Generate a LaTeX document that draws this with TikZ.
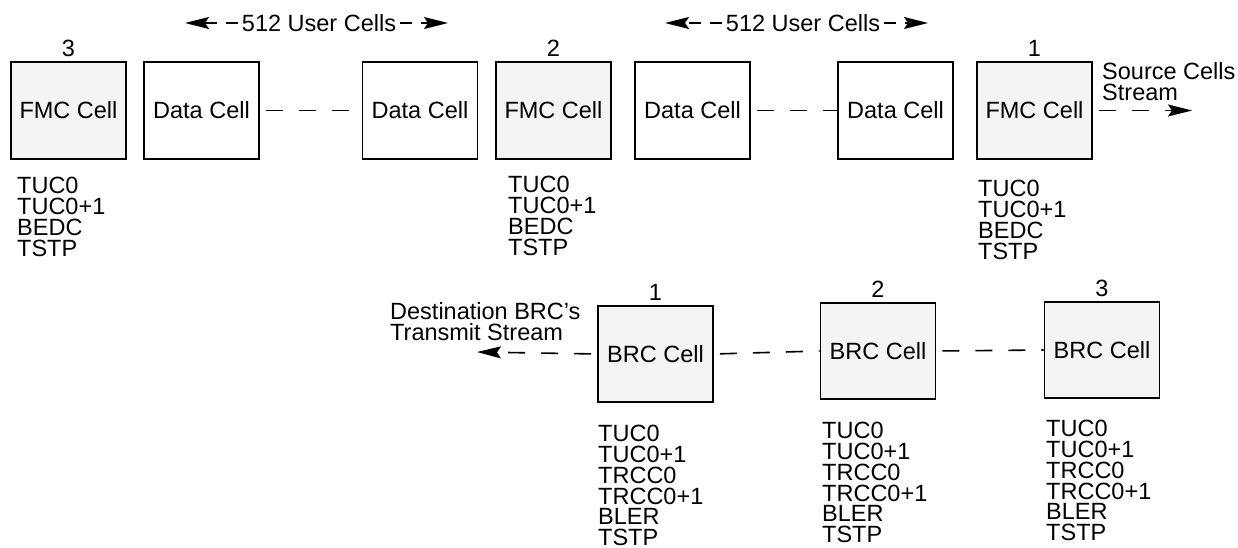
\documentclass[tikz,border=0pt]{standalone}
\usepackage{fontspec}
\setmainfont{Liberation Sans}
\usetikzlibrary{arrows.meta,calc}
\definecolor{cellgray}{HTML}{F4F4F4}
\begin{document}
\begin{tikzpicture}[x=1pt,y=-1pt,
  font=\fontsize{23.5}{20.8}\selectfont,
  cellbox/.style={draw=black,line width=1.8pt,minimum width=115pt,minimum height=97pt,inner sep=0pt},
  fmc/.style={cellbox,fill=cellgray},
  data/.style={cellbox,fill=white},
  num/.style={inner sep=0pt,label distance=4.5pt},
  info/.style={anchor=north west,align=left,inner sep=0pt},
  dline/.style={line width=1.6pt,dash pattern=on 17pt off 16pt},
  sline/.style={line width=1.6pt,dash pattern=on 12pt off 9pt},
  tip/.style={-{Stealth[length=24pt,width=12pt,inset=4pt]}}
]
\useasboundingbox (0,0) rectangle (1238,548);

% top row
\node[fmc,label={[num]above:3}] (fmc3) at (68.5,110.5) {FMC Cell};
\node[data] (d1) at (201.5,110.5) {Data Cell};
\node[data] (d2) at (420,110.5) {Data Cell};
\node[fmc,label={[num]above:2}] (fmc2) at (553.5,110.5) {FMC Cell};
\node[data] (d3) at (692.5,110.5) {Data Cell};
\node[data] (d4) at (895.5,110.5) {Data Cell};
\node[fmc,label={[num]above:1}] (fmc1) at (1034.5,110.5) {FMC Cell};

\draw[dline,dash phase=-6pt] (d1.east) -- (d2.west);
\draw[dline,dash phase=-6pt] (d3.east) -- (d4.west);
\coordinate (srcend) at (1192,110.5);
\draw[dline,dash phase=-6pt,tip] (fmc1.east) -- (srcend);
\node[info] (srctxt) at (1102,62) {Source Cells\\Stream};

% 512 user cells spans
\node[inner sep=4pt] (u1) at (319,23) {512 User Cells};
\coordinate (u1l) at (185,23);
\coordinate (u1r) at (448,23);
\draw[sline,tip] (u1.west) -- (u1l);
\draw[sline,tip] (u1.east) -- (u1r);
\node[inner sep=4pt] (u2) at (803,23) {512 User Cells};
\coordinate (u2l) at (665,23);
\coordinate (u2r) at (928,23);
\draw[sline,tip] (u2.west) -- (u2l);
\draw[sline,tip] (u2.east) -- (u2r);

% top annotations
\node[info] (i3) at (17,177) {TUC0\\TUC0+1\\BEDC\\TSTP};
\node[info] (i2) at (508,176) {TUC0\\TUC0+1\\BEDC\\TSTP};
\node[info] (i1) at (978,180) {TUC0\\TUC0+1\\BEDC\\TSTP};

% bottom row
\node[fmc,minimum height=96pt,label={[num]above:1}] (b1) at (655.5,354) {BRC Cell};
\node[fmc,minimum height=96pt,label={[num]above:2}] (b2) at (878,351) {BRC Cell};
\node[fmc,minimum height=96pt,label={[num]above:3}] (b3) at (1102,350) {BRC Cell};

\draw[dline,dash phase=-6pt] (b1.east) -- (b2.west);
\draw[dline,dash phase=-6pt] (b2.east) -- (b3.west);
\coordinate (dstend) at (477,352);
\draw[dline,dash phase=-6pt,tip] (b1.west) -- (dstend);
\node[info] (dsttxt) at (390,302) {Destination BRC’s\\Transmit Stream};

\node[info] (j1) at (598,425) {TUC0\\TUC0+1\\TRCC0\\TRCC0+1\\BLER\\TSTP};
\node[info] (j2) at (822,422) {TUC0\\TUC0+1\\TRCC0\\TRCC0+1\\BLER\\TSTP};
\node[info] (j3) at (1046,420) {TUC0\\TUC0+1\\TRCC0\\TRCC0+1\\BLER\\TSTP};
\end{tikzpicture}
\end{document}
